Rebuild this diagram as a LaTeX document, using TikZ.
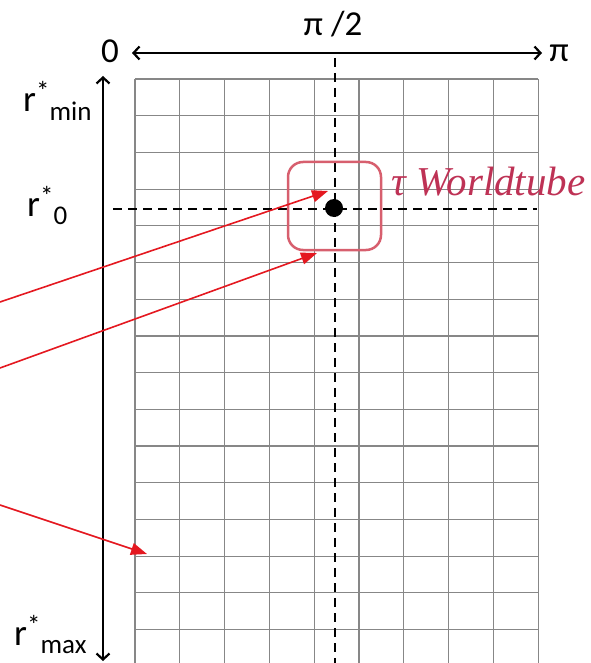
\documentclass[tikz,border=0pt]{standalone}
\usepackage{fontspec}
\setmainfont{Carlito}
\newfontfamily\wtfont{Liberation Serif}
\usetikzlibrary{arrows.meta}
\definecolor{gridgray}{RGB}{135,135,135}
\definecolor{tubebox}{RGB}{215,95,110}
\definecolor{tubetext}{RGB}{190,50,85}
\definecolor{arrowred}{RGB}{228,24,32}
\tikzset{
  gridline/.style={draw=gridgray, line width=1.2pt},
  axis/.style={draw=black, line width=2.2pt, {Straight Barb[length=6pt,width=13pt]}-{Straight Barb[length=6pt,width=13pt]}},
  dashline/.style={draw=black, line width=2.8pt, dash pattern=on 9pt off 6pt},
  redarrow/.style={draw=arrowred, line width=1.6pt, -{Triangle[length=16pt,width=12pt]}},
  bigfont/.style={font=\fontsize{35}{38}\selectfont, inner sep=0pt},
  rlabel/.style={inner sep=0pt, anchor=base west},
}
\newcommand{\rlab}[1]{{\fontsize{37}{37}\selectfont r}\raisebox{11pt}{\fontsize{27}{27}\selectfont *}\raisebox{-8.5pt}{\fontsize{27}{27}\selectfont #1}}
\begin{document}
\begin{tikzpicture}[x=1pt,y=-1pt]
\useasboundingbox (0,0) rectangle (590,663);
% grid
\foreach \i in {0,...,9} {
  \draw[gridline] ({135+44.8*\i},79) -- ({135+44.8*\i},663);
}
\foreach \j in {0,...,15} {
  \draw[gridline] (135,{79+36.7*\j}) -- (538,{79+36.7*\j});
}
% dashed lines
\coordinate (vtop) at (335,58);
\coordinate (vbot) at (335,663);
\coordinate (hleft) at (113,209);
\coordinate (hright) at (537,209);
\draw[dashline] (vtop) -- (vbot);
\draw[dashline] (hleft) -- (hright);
% axes
\coordinate (xl) at (132,53);
\coordinate (xr) at (542,53);
\coordinate (yt) at (103,76);
\coordinate (yb) at (103,661);
\draw[axis] (xl) -- (xr);
\draw[axis] (yt) -- (yb);
\node[bigfont] (zero) at (110,51) {0};
\node[bigfont] (pi) at (559,53) {π};
\node[bigfont] (pihalf) at (333,24) {π /2};
% r labels
\node[rlabel] (rmin) at (23,112) {\rlab{min}};
\node[rlabel] (rzero) at (27,216) {\rlab{0}};
\node[rlabel] (rmax) at (14,645) {\rlab{max}};
% worldtube
\draw[draw=tubebox, line width=2.5pt, rounded corners=15pt] (288,162) rectangle (381,250);
\node[inner sep=0pt, anchor=base west, text=tubetext, font=\wtfont\itshape\fontsize{41}{44}\selectfont] (wt) at (391,195) {τ Worldtube};
\fill[black] (334,208) circle (9);
\node[inner sep=0pt, minimum size=0pt] (particle) at (334,208) {};
% red arrows
\coordinate (s1) at (0,302);
\coordinate (e1) at (328,191);
\coordinate (s2) at (0,368);
\coordinate (e2) at (317,253);
\coordinate (s3) at (0,505);
\coordinate (e3) at (147,554);
\draw[redarrow] (s1) -- (e1);
\draw[redarrow] (s2) -- (e2);
\draw[redarrow] (s3) -- (e3);
\end{tikzpicture}
\end{document}
